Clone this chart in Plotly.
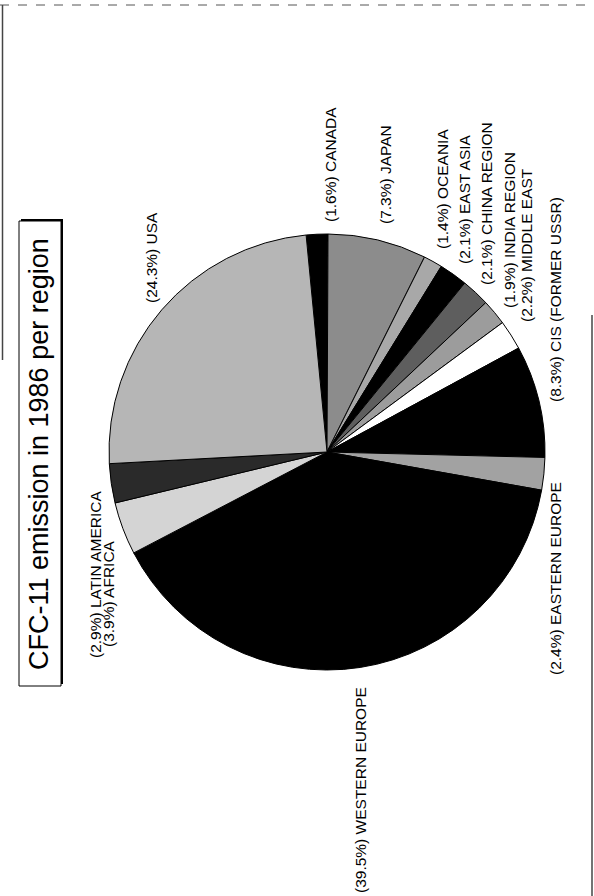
import plotly.graph_objects as go

# ---- data ----
regions = ["CANADA", "JAPAN", "OCEANIA", "EAST ASIA", "CHINA REGION", "INDIA REGION",
           "MIDDLE EAST", "CIS (FORMER USSR)", "EASTERN EUROPE", "WESTERN EUROPE",
           "AFRICA", "LATIN AMERICA", "USA"]
shares = [1.6, 7.3, 1.4, 2.1, 2.1, 1.9, 2.2, 8.3, 2.4, 39.5, 3.9, 2.9, 24.3]
fills = ["#000000", "#8c8c8c", "#a8a8a8", "#000000", "#5e5e5e", "#9c9c9c",
         "#ffffff", "#000000", "#a2a2a2", "#000000", "#d4d4d4", "#2a2a2a", "#b6b6b6"]
title_text = "CFC-11 emission in 1986 per region"

W, H = 594, 896

# label centres in page pixels (layout)
label_pos = {
    "CANADA": (330, 165), "JAPAN": (385, 175), "OCEANIA": (442, 189),
    "EAST ASIA": (464, 199), "CHINA REGION": (487, 204), "INDIA REGION": (509, 230),
    "MIDDLE EAST": (526, 245), "CIS (FORMER USSR)": (555, 300),
    "EASTERN EUROPE": (555, 579), "WESTERN EUROPE": (360, 790),
    "AFRICA": (108, 594), "LATIN AMERICA": (95, 575), "USA": (151, 258),
}

def px(x):
    return x / W

def py(y):
    return 1 - y / H

cx, cy, r = 327, 452, 218

fig = go.Figure(go.Pie(
    labels=regions, values=shares, sort=False, direction="clockwise",
    rotation=-5.5, textinfo="none", hoverinfo="label+value",
    marker=dict(colors=fills, line=dict(color="#000000", width=1)),
    domain=dict(x=[px(cx - r), px(cx + r)], y=[py(cy + r), py(cy - r)]),
    showlegend=False,
))

font = "Liberation Sans, Arial, Helvetica, sans-serif"
annotations = []
for name, v in zip(regions, shares):
    x, y = label_pos[name]
    annotations.append(dict(
        x=px(x), y=py(y), xref="paper", yref="paper", showarrow=False,
        text=f"({v:.1f}%) {name}", textangle=-90, xanchor="center", yanchor="middle",
        font=dict(family=font, size=15.5, color="#000000"),
    ))
annotations.append(dict(
    x=px(39), y=py(454), xref="paper", yref="paper", showarrow=False,
    text=title_text, textangle=-90, xanchor="center", yanchor="middle",
    font=dict(family=font, size=27, color="#000000"),
))

shapes = [
    # title box shadow and frame
    dict(type="rect", xref="paper", yref="paper", x0=px(21), x1=px(63), y0=py(684), y1=py(219),
         line=dict(width=0), fillcolor="#000000", layer="below"),
    dict(type="rect", xref="paper", yref="paper", x0=px(19), x1=px(61), y0=py(686), y1=py(221),
         line=dict(color="#000000", width=1), fillcolor="#ffffff", layer="below"),
    # scanned page edges
    dict(type="line", xref="paper", yref="paper", x0=px(0), x1=px(594), y0=py(5), y1=py(5),
         line=dict(color="#555555", width=1, dash="dash")),
    dict(type="line", xref="paper", yref="paper", x0=px(2.5), x1=px(2.5), y0=py(5), y1=py(360),
         line=dict(color="#444444", width=1.5)),
    dict(type="line", xref="paper", yref="paper", x0=px(592), x1=px(592), y0=py(315), y1=py(896),
         line=dict(color="#444444", width=1.5)),
]

fig.update_layout(
    width=W, height=H, autosize=False,
    margin=dict(l=0, r=0, t=0, b=0),
    paper_bgcolor="#ffffff", plot_bgcolor="#ffffff",
    annotations=annotations, shapes=shapes,
)

fig.write_html("out.html")
